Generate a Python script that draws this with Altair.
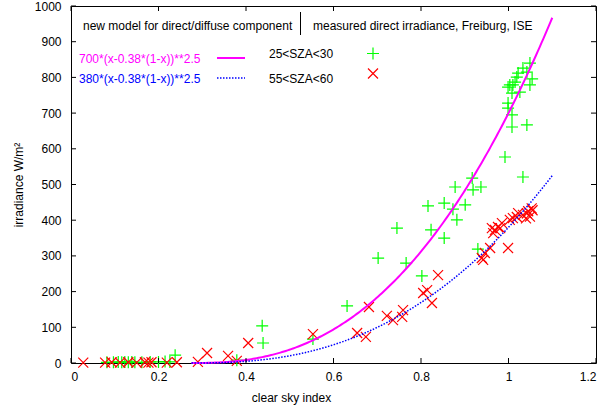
import altair as alt
import pandas as pd
import numpy as np

# ---------------- data ----------------
# measured direct irradiance, 25<SZA<30 (green +)
sza25_x = [0.082, 0.097, 0.108, 0.116, 0.123, 0.131, 0.139, 0.146, 0.162, 0.181, 0.200, 0.215, 0.226,
           0.238, 0.379, 0.437, 0.439, 0.553, 0.631, 0.702, 0.745, 0.766, 0.802, 0.816, 0.823,
           0.853, 0.853, 0.873, 0.878, 0.882, 0.901, 0.917, 0.919, 0.930, 0.937, 0.992, 1.033,
           0.999, 0.999, 1.008, 1.008, 1.042, 1.008, 1.026, 0.999, 1.003, 1.010, 1.049, 1.015,
           1.019, 1.054, 1.022, 1.042, 1.033, 1.049]
sza25_y = [2, 2, 3, 2, 3, 2, 3, 2, 2, 3, 3, 4, 3,
           22, 8, 104, 56, 67, 160, 294, 378, 280, 244, 440, 373,
           448, 350, 431, 493, 401, 443, 518, 485, 319, 493, 577, 521,
           728, 714, 695, 661, 667, 756, 759, 773, 779, 779, 779, 787,
           801, 796, 812, 815, 826, 840]

# measured direct irradiance, 55<SZA<60 (red x)
sza55_x = [0.028, 0.078, 0.093, 0.112, 0.131, 0.150, 0.169, 0.177, 0.184, 0.219, 0.242,
           0.290, 0.311, 0.359, 0.379, 0.405, 0.553, 0.654, 0.674, 0.681, 0.722, 0.736,
           0.757, 0.759, 0.805, 0.814, 0.825, 0.839, 0.939, 0.942, 0.946, 0.958, 0.999,
           0.962, 0.965, 0.969, 0.976, 0.981, 0.985, 1.003, 1.010, 1.019, 1.022, 1.033,
           1.042, 1.049, 1.053, 1.045, 1.055, 1.040]
sza55_y = [1, 1, 2, 1, 2, 1, 2, 1, 2, 1, 2,
           3, 28, 20, 6, 56, 81, 84, 73, 157, 132, 120,
           129, 148, 196, 204, 168, 246, 294, 289, 308, 322, 322,
           378, 364, 373, 381, 378, 392, 401, 406, 409, 420, 415,
           419, 410, 433, 425, 428, 405]

# model for direct/diffuse component: a*(x-0.38*(1-x))**2.5 (from the legend)
model_a = [700, 380]
model_k = 0.38
model_p = 2.5
model_xmax = 1.1

x_ticks = [0, 0.2, 0.4, 0.6, 0.8, 1.0, 1.2]
y_ticks = [0, 100, 200, 300, 400, 500, 600, 700, 800, 900, 1000]

legend_title_left = "new model for direct/diffuse component"
legend_title_right = "measured direct irradiance, Freiburg, ISE"
legend_model = ["700*(x-0.38*(1-x))**2.5", "380*(x-0.38*(1-x))**2.5"]
legend_meas = ["25<SZA<30", "55<SZA<60"]

# ---------------- build tables ----------------
pts25 = pd.DataFrame({"x": sza25_x, "y": sza25_y})
pts55 = pd.DataFrame({"x": sza55_x, "y": sza55_y})
x0 = model_k / (1 + model_k)
cx = np.linspace(x0, model_xmax, 200)
base = np.clip(cx - model_k * (1 - cx), 0, None)
curve_m = pd.DataFrame({"x": cx, "y": model_a[0] * base ** model_p})
curve_b = pd.DataFrame({"x": cx, "y": model_a[1] * base ** model_p})
xt = pd.DataFrame({"v": x_ticks})
yt = pd.DataFrame({"v": y_ticks})

W, H = 525, 357
FONT = "Liberation Sans"
FS = 12
GREEN, RED, MAGENTA, BLUE = "#00ff00", "#ff0000", "#ff00ff", "#0000ff"
PLUS = "M-1,0L1,0M0,-1L0,1"
CROSS = "M-1,-1L1,1M-1,1L1,-1"

xs = alt.Scale(domain=[0, 1.2], nice=False, zero=False)
ys = alt.Scale(domain=[0, 1000], nice=False, zero=False)
xaxis = alt.Axis(values=x_ticks, format="~g", ticks=False, domain=False, grid=False,
                 labelPadding=8, title="clear sky index",
                 titleX=220, titleY=34, titleBaseline="middle")
yaxis = alt.Axis(values=y_ticks, format="d", ticks=False, domain=False, grid=False,
                 labelPadding=10, title="irradiance W/m²",
                 titleX=-53, titleBaseline="middle")

X = alt.X("x:Q", scale=xs, axis=xaxis)
Y = alt.Y("y:Q", scale=ys, axis=yaxis)

g = alt.Chart(pts25).mark_point(shape=PLUS, size=144, filled=False, stroke=GREEN,
                                strokeWidth=1.2, opacity=1).encode(x=X, y=Y)
r = alt.Chart(pts55).mark_point(shape=CROSS, size=100, filled=False, stroke=RED,
                                strokeWidth=1.2, opacity=1).encode(x=X, y=Y)
lm = alt.Chart(curve_m).mark_line(color=MAGENTA, strokeWidth=2).encode(x=X, y=Y)
lb = alt.Chart(curve_b).mark_line(color=BLUE, strokeWidth=1.5, strokeDash=[1.5, 1.5]).encode(x=X, y=Y)

XT = alt.X("v:Q", scale=xs, axis=xaxis)
YT = alt.Y("v:Q", scale=ys, axis=yaxis)
tb = alt.Chart(xt).mark_rule(color="black").encode(x=XT, y=alt.value(H), y2=alt.value(H - 5))
tt = alt.Chart(xt).mark_rule(color="black").encode(x=XT, y=alt.value(0), y2=alt.value(5))
tl = alt.Chart(yt).mark_rule(color="black").encode(y=YT, x=alt.value(0), x2=alt.value(5))
tr = alt.Chart(yt).mark_rule(color="black").encode(y=YT, x=alt.value(W), x2=alt.value(W - 5))

one = pd.DataFrame({"a": [0]})


def label(txt, px, py, color="black"):
    return alt.Chart(pd.DataFrame({"t": [txt]})).mark_text(
        align="left", baseline="middle", font=FONT, fontSize=FS, color=color
    ).encode(x=alt.value(px), y=alt.value(py), text="t:N")


leg = [
    label(legend_title_left, 12, 20),
    label(legend_title_right, 242, 20),
    alt.Chart(one).mark_rule(color="black", strokeWidth=1).encode(
        x=alt.value(229.5), y=alt.value(6), y2=alt.value(29)),
    label(legend_model[0], 8, 52.5, MAGENTA),
    label(legend_model[1], 8, 72.5, BLUE),
    label(legend_meas[0], 198, 47.5),
    label(legend_meas[1], 198, 72.5),
    alt.Chart(one).mark_rule(color=MAGENTA, strokeWidth=2).encode(
        x=alt.value(146), x2=alt.value(174), y=alt.value(52)),
    alt.Chart(one).mark_rule(color=BLUE, strokeWidth=1.5, strokeDash=[1.5, 1.5]).encode(
        x=alt.value(146), x2=alt.value(174), y=alt.value(72)),
    alt.Chart(one).mark_point(shape=PLUS, size=144, filled=False, stroke=GREEN,
                              strokeWidth=1.2, opacity=1).encode(x=alt.value(302), y=alt.value(47.5)),
    alt.Chart(one).mark_point(shape=CROSS, size=100, filled=False, stroke=RED,
                              strokeWidth=1.2, opacity=1).encode(x=alt.value(302), y=alt.value(67.5)),
]

chart = alt.layer(g, r, lm, lb, tb, tt, tl, tr, *leg).properties(
    width=W, height=H,
    autosize=alt.AutoSizeParams(type="none"),
    padding={"left": 71, "top": 6, "right": 17, "bottom": 44},
    background="white",
).configure_view(stroke="black", strokeWidth=1).configure_axis(
    labelFont=FONT, labelFontSize=FS, labelColor="black",
    titleFont=FONT, titleFontSize=FS, titleFontWeight="normal", titleColor="black",
)

chart.save("out.html", embed_options={"renderer": "svg", "actions": False})
